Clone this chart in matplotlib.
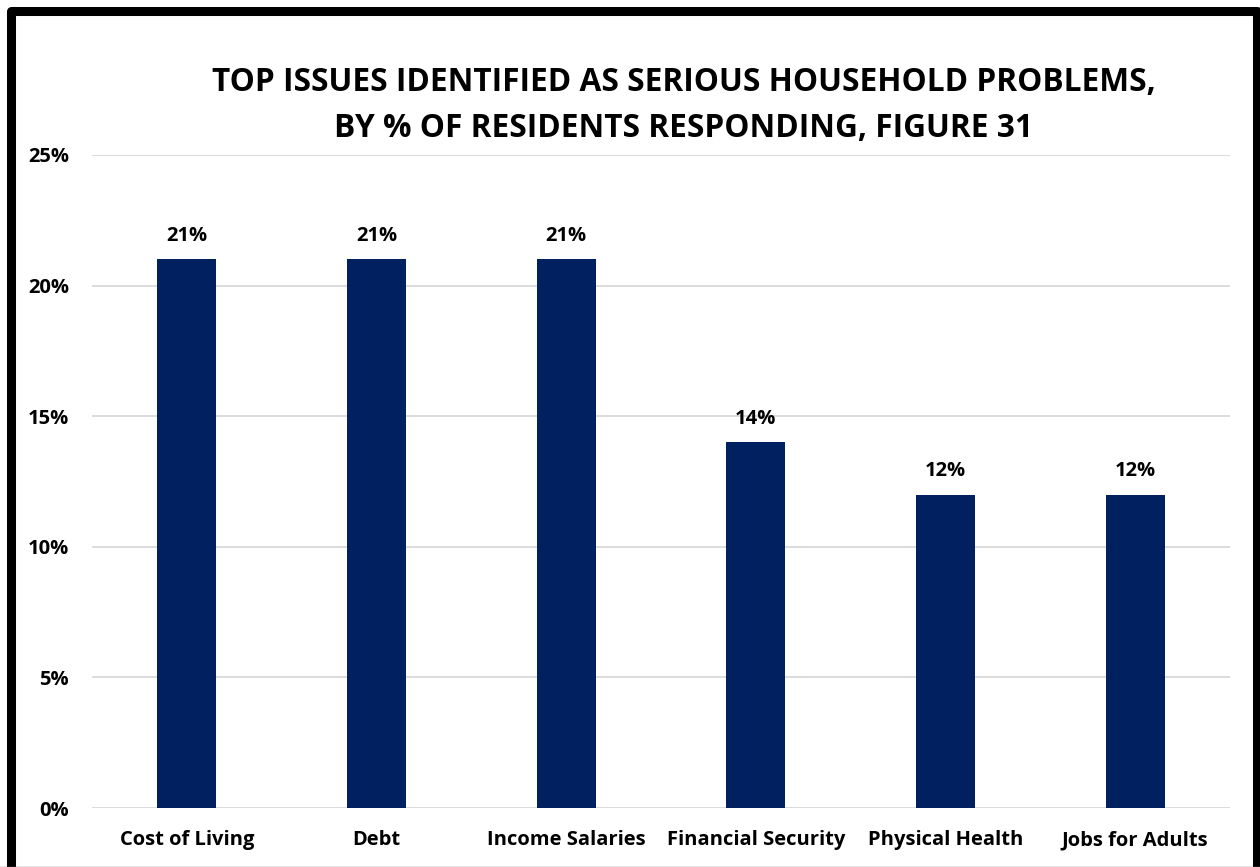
import matplotlib
matplotlib.use("Agg")
import matplotlib.pyplot as plt
from matplotlib.patches import Rectangle
from matplotlib.ticker import FuncFormatter

categories = ["Cost of Living", "Debt", "Income Salaries", "Financial Security",
              "Physical Health", "Jobs for Adults"]
values = [21, 21, 21, 14, 12, 12]
yticks = [0, 5, 10, 15, 20, 25]

FONT = ['Open Sans', 'DejaVu Sans']
plt.rcParams['font.family'] = FONT
plt.rcParams['font.weight'] = 'bold'

W, H = 1260, 867
fig = plt.figure(figsize=(W / 100, H / 100), dpi=100)
ax = fig.add_axes([92 / W, 1 - 808 / H, (1230 - 92) / W, (808 - 155) / H])

bar_color = "#002060"
x = list(range(len(categories)))
ax.bar(x, values, width=0.31, color=bar_color, zorder=3)
for xi, v in zip(x, values):
    ax.annotate(f"{v}%", (xi, v), xytext=(0, 13.5), textcoords="offset points",
                ha="center", va="baseline", fontsize=14.5, fontweight="bold", color="black")

ax.set_xlim(-0.5, len(categories) - 0.5)
ax.set_ylim(0, 25)
ax.set_yticks(yticks)
ax.yaxis.set_major_formatter(FuncFormatter(lambda v, p: f"{int(v)}%"))
ax.grid(axis="y", color="#D9D9D9", linewidth=1.3, zorder=0)
ax.set_xticks(x)
ax.set_xticklabels(categories)
for s in ax.spines.values():
    s.set_visible(False)
ax.tick_params(axis="both", length=0, labelsize=14.5)
ax.tick_params(axis="x", pad=16)
ax.tick_params(axis="y", pad=16.5)
for lab in ax.get_xticklabels() + ax.get_yticklabels():
    lab.set_fontweight("bold")

fig.text(684 / W, 1 - 91 / H, "TOP ISSUES IDENTIFIED AS SERIOUS HOUSEHOLD PROBLEMS,",
         ha="center", va="baseline", fontsize=22.8, fontweight="bold")
fig.text(684 / W, 1 - 137 / H, "BY % OF RESIDENTS RESPONDING, FIGURE 31",
         ha="center", va="baseline", fontsize=22.8, fontweight="bold")

# frame border
fig.patches.append(Rectangle((10.5 / W, -0.1), (1257 - 10.5) / W, 1 - 10.5 / H + 0.1,
                             transform=fig.transFigure, fill=False, edgecolor="black",
                             linewidth=6.5, joinstyle="round"))
fig.add_artist(plt.Line2D([0, 1], [0.5 / H, 0.5 / H], color="#777777", linewidth=1))

fig.savefig("out.png", dpi=100)
